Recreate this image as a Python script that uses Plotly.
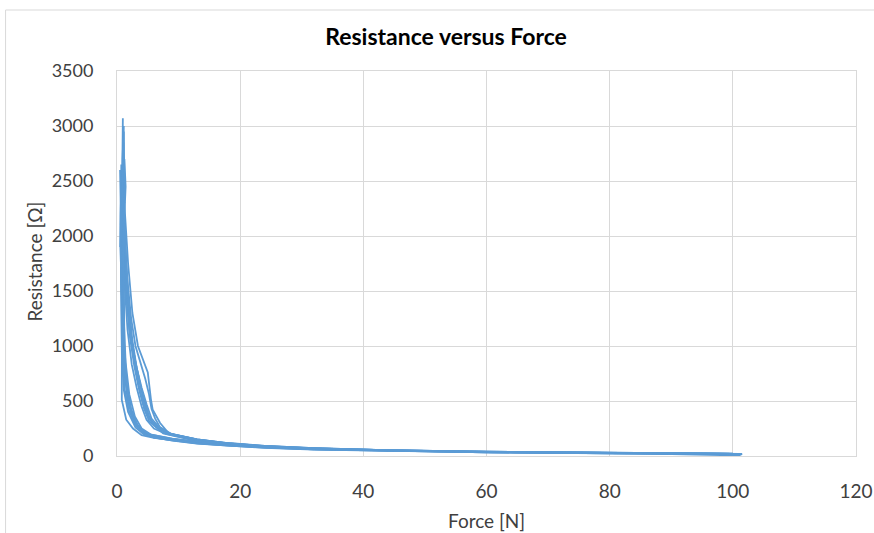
import plotly.graph_objects as go

# ---- data ----
force_c1 = [0.9, 0.95, 0.8, 0.75, 0.8, 0.78, 1.5, 2.6, 4.0, 6, 9, 13, 18, 24, 32, 45, 60, 80, 100, 101.5,
            101.0, 80, 60, 45, 32, 24, 18, 13, 8.5, 7.0, 5.8, 5.5, 5.0, 4.2, 3.4, 2.5, 1.8, 1.3, 1.0]
res_c1 = [2700, 3070, 2600, 2000, 1200, 510, 330, 250, 190, 165, 145, 120, 100, 82, 64, 48, 36, 27, 20, 18,
          5, 28, 38, 50, 68, 88, 112, 150, 200, 300, 420, 520, 760, 880, 1000, 1300, 1750, 2200, 2500]

force_c2 = [1.0, 1.05, 0.95, 0.9, 1.0, 1.2, 1.7, 2.5, 3.6, 5, 8, 13, 18, 24, 32, 45, 60, 80, 100,
            80, 60, 45, 32, 24, 18, 13, 8.3, 6.5, 5.4, 4.5, 3.7, 2.9, 2.2, 1.7, 1.3, 1.1]
res_c2 = [2400, 2850, 2300, 1700, 1150, 800, 520, 360, 240, 190, 160, 125, 105, 85, 66, 50, 37, 28, 21,
          30, 40, 52, 72, 92, 118, 150, 205, 270, 330, 460, 665, 880, 1120, 1500, 1950, 2300]

force_c3 = [0.6, 0.7, 0.6, 0.65, 0.8, 1.1, 1.8, 3.0, 4.3, 6, 9, 13, 18, 24, 32, 45, 60, 80, 100,
            80, 60, 45, 32, 24, 18, 13, 7.5, 6.0, 5.2, 4.6, 3.8, 3.0, 2.2, 1.6, 1.2, 0.9]
res_c3 = [2100, 2650, 2200, 1500, 900, 600, 400, 260, 200, 170, 140, 112, 92, 74, 58, 44, 33, 25, 18,
          26, 35, 46, 62, 80, 102, 135, 205, 280, 360, 480, 640, 850, 1100, 1450, 1800, 2100]

force_c4 = [1.2, 1.1, 1.0, 1.05, 1.2, 1.6, 2.3, 3.3, 4.6, 6, 9, 13, 18, 24, 32, 45, 60, 80, 100,
            80, 60, 45, 32, 24, 18, 13, 9.0, 7.0, 6.2, 5.6, 5.2, 4.6, 3.8, 3.0, 2.3, 1.6, 1.2]
res_c4 = [2500, 2950, 2400, 1800, 1000, 650, 430, 280, 200, 175, 150, 122, 102, 80, 62, 47, 35, 26, 19,
          29, 39, 51, 70, 90, 115, 145, 195, 260, 340, 430, 560, 700, 850, 1000, 1250, 1650, 2050]

force_c5 = [0.7, 0.8, 0.7, 0.75, 0.9, 1.3, 2.0, 3.1, 4.4, 6, 9, 13, 18, 24, 32, 45, 60, 80, 100,
            80, 60, 45, 32, 24, 18, 13, 8.0, 6.4, 5.2, 4.4, 3.6, 2.8, 2.1, 1.5, 1.1, 0.8]
res_c5 = [2000, 2500, 2100, 1600, 1100, 700, 450, 300, 210, 172, 146, 118, 96, 78, 61, 46, 34, 25, 19,
          27, 37, 49, 66, 86, 110, 142, 210, 260, 320, 430, 600, 820, 1080, 1450, 1850, 2050]

force_c6 = [1.0, 1.1, 0.9, 0.85, 0.95, 1.2, 1.6, 2.3, 3.5, 5.0, 9, 13, 18, 24, 32, 45, 60, 80, 100,
            80, 60, 45, 32, 24, 18, 13, 8.8, 7.2, 6.0, 5.0, 4.2, 3.5, 2.8, 2.0, 1.5, 1.1]
res_c6 = [2550, 3000, 2700, 2100, 1400, 950, 600, 400, 260, 200, 155, 128, 106, 84, 65, 49, 36, 27, 20,
          28, 38, 50, 69, 89, 114, 148, 200, 240, 290, 360, 500, 650, 870, 1150, 1600, 2250]

force_c7 = [0.5, 0.6, 0.5, 0.7, 0.55, 0.8, 0.9, 1.2, 1.9, 3.0, 4.2, 6, 9, 13, 18, 24, 32, 45, 60, 80, 100,
            80, 60, 45, 32, 24, 18, 13, 8.0, 6.0, 4.8, 4.0, 3.2, 2.4, 1.7, 1.2, 0.9, 0.6]
res_c7 = [1900, 2300, 2600, 2200, 1900, 1450, 1000, 620, 420, 280, 205, 168, 142, 116, 95, 76, 60, 45, 34, 25, 18,
          26, 36, 48, 64, 84, 108, 140, 200, 250, 330, 450, 620, 830, 1150, 1600, 2000, 2300]

force_c8 = [1.3, 1.2, 1.4, 1.1, 1.0, 1.1, 1.4, 2.0, 2.9, 4.0, 5.5, 9, 13, 18, 24, 32, 45, 60, 80, 100,
            80, 60, 45, 32, 24, 18, 13, 8.5, 6.8, 5.6, 4.8, 4.0, 3.2, 2.5, 1.9, 1.4, 1.1]
res_c8 = [2300, 2700, 2450, 2050, 1650, 1250, 850, 560, 360, 250, 195, 158, 130, 108, 86, 67, 50, 37, 28, 21,
          30, 40, 52, 71, 91, 117, 152, 205, 265, 340, 470, 620, 800, 1050, 1400, 1850, 2150]

x_ticks = [0, 20, 40, 60, 80, 100, 120]
y_ticks = [0, 500, 1000, 1500, 2000, 2500, 3000, 3500]

cycles = [(force_c1, res_c1), (force_c2, res_c2), (force_c3, res_c3), (force_c4, res_c4),
          (force_c5, res_c5), (force_c6, res_c6), (force_c7, res_c7), (force_c8, res_c8)]

fig = go.Figure()
for fx, ry in cycles:
    fig.add_trace(go.Scatter(x=fx, y=ry, mode="lines",
                             line=dict(color="#5B9BD5", width=1.8),
                             showlegend=False, hoverinfo="skip"))

L, R, T, B = 116.5, 18, 71, 77
W, H = 874, 533
pw, ph = W - L - R, H - T - B

font_family = "Lato, 'Open Sans', sans-serif"
txt = "#404040"

fig.update_layout(
    width=W, height=H,
    margin=dict(l=L, r=R, t=T, b=B, pad=0, autoexpand=False),
    paper_bgcolor="white", plot_bgcolor="white",
    title=dict(text="<b>Resistance versus Force</b>", x=446 / W, xref="container", xanchor="center",
               y=1 - 37 / H, yref="container", yanchor="middle",
               font=dict(family=font_family, size=23, color="#000000")),
    font=dict(family=font_family, size=18, color=txt),
    xaxis=dict(range=[0, 120], tickvals=x_ticks, showgrid=True, gridcolor="#D9D9D9", gridwidth=1,
               showline=True, linecolor="#D9D9D9", mirror=True, zeroline=False,
               ticks="", ticklabelstandoff=18, automargin=False, tickfont=dict(size=19)),
    yaxis=dict(range=[0, 3500], tickvals=y_ticks, showgrid=True, gridcolor="#D9D9D9", gridwidth=1,
               showline=True, linecolor="#D9D9D9", mirror=True, zeroline=True,
               zerolinecolor="#BFBFBF", zerolinewidth=1,
               ticks="", ticklabelstandoff=19, automargin=False, tickfont=dict(size=18)),
    annotations=[
        dict(text="Force [N]", xref="paper", yref="paper", x=0.5, y=(456 - 520) / ph,
             xanchor="center", yanchor="middle", showarrow=False,
             font=dict(family=font_family, size=19, color=txt)),
        dict(text="Resistance [Ω]", xref="paper", yref="paper", x=(33 - L) / pw, y=(456 - 262) / ph,
             xanchor="center", yanchor="middle", showarrow=False, textangle=-90,
             font=dict(family=font_family, size=19, color=txt)),
    ],
    shapes=[dict(type="rect", xref="paper", yref="paper",
                 x0=(5 - L) / pw, x1=2.0, y0=-1.0, y1=(H - B - 10) / ph,
                 line=dict(color="#D9D9D9", width=1), fillcolor="rgba(0,0,0,0)", layer="below")],
)

fig.write_html("out.html", config={"displayModeBar": False},
               post_script="document.body.style.margin='0';document.body.style.padding='0';")
